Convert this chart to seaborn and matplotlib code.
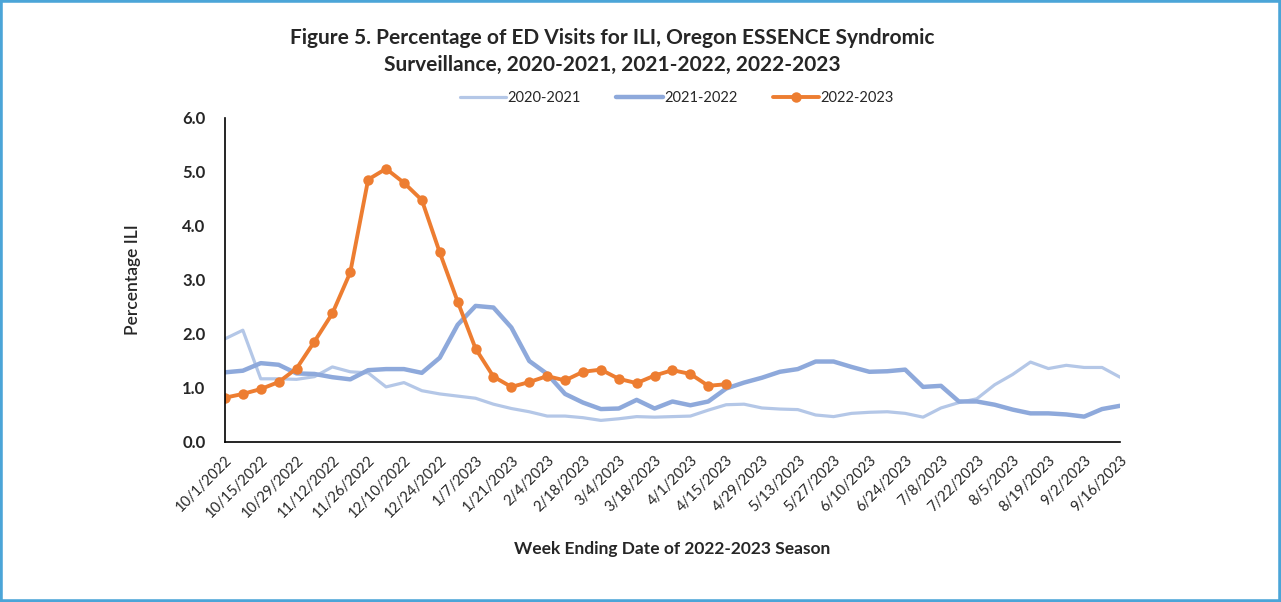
"""Oregon ESSENCE ILI ED visits, three seasons"""
import pandas as pd
import numpy as np
import matplotlib
matplotlib.use('Agg')
import matplotlib.pyplot as plt
from matplotlib.patches import Rectangle
import seaborn as sns

sns.set_theme(style="white")
plt.rcParams['font.family'] = ['Lato', 'DejaVu Sans']

weeks = pd.date_range('2022-10-01', '2023-09-16', freq='7D')
week_labels = [f"{d.month}/{d.day}/{d.year}" for d in weeks]

ili_2020_21 = [1.91, 2.07, 1.17, 1.17, 1.16, 1.21, 1.39, 1.30, 1.28, 1.02,
               1.10, 0.95, 0.89, 0.85, 0.81, 0.70, 0.62, 0.56, 0.48, 0.48,
               0.45, 0.40, 0.43, 0.47, 0.46, 0.47, 0.48, 0.59, 0.69, 0.70,
               0.63, 0.61, 0.60, 0.50, 0.47, 0.53, 0.55, 0.56, 0.53, 0.46,
               0.63, 0.73, 0.80, 1.06, 1.25, 1.48, 1.36, 1.42, 1.38, 1.38,
               1.20]
ili_2021_22 = [1.29, 1.32, 1.46, 1.43, 1.27, 1.26, 1.20, 1.16, 1.33, 1.35,
               1.35, 1.28, 1.56, 2.17, 2.52, 2.49, 2.12, 1.50, 1.26, 0.89,
               0.73, 0.61, 0.62, 0.78, 0.62, 0.75, 0.68, 0.75, 0.99, 1.10,
               1.19, 1.30, 1.35, 1.49, 1.49, 1.39, 1.30, 1.31, 1.34, 1.02,
               1.04, 0.75, 0.75, 0.69, 0.60, 0.53, 0.53, 0.51, 0.47, 0.61,
               0.67]
ili_2022_23 = [0.82, 0.89, 0.98, 1.11, 1.36, 1.86, 2.38, 3.14, 4.86, 5.06,
               4.80, 4.48, 3.51, 2.60, 1.73, 1.21, 1.02, 1.11, 1.22, 1.14,
               1.30, 1.34, 1.17, 1.09, 1.23, 1.33, 1.26, 1.04, 1.07]

fig = plt.figure(figsize=(12.81, 6.02), dpi=100)
ax = fig.add_axes([0.1756, 0.2658, 0.6987, 0.5382])

x_all = np.arange(len(weeks))
sns.lineplot(x=x_all, y=ili_2020_21, ax=ax, color='#B4C7E7', linewidth=2.3,
             label='2020-2021')
sns.lineplot(x=x_all, y=ili_2021_22, ax=ax, color='#8EA9DB', linewidth=3.2,
             label='2021-2022')
sns.lineplot(x=x_all[:len(ili_2022_23)], y=ili_2022_23, ax=ax, color='#ED7D31',
             linewidth=2.8, marker='o', markersize=7.5, markeredgewidth=0,
             label='2022-2023')

ax.set_xlim(0, len(weeks) - 1)
ax.set_ylim(0, 6)
ax.set_xticks(x_all)
ax.set_xticklabels([lbl if i % 2 == 0 else '' for i, lbl in enumerate(week_labels)],
                   rotation=45, ha='right', rotation_mode='anchor', fontsize=10.5)
ax.set_yticks(np.arange(0, 7, 1))
ax.set_yticklabels([f"{v:.1f}" for v in range(7)], fontsize=12, fontweight='bold')
ax.tick_params(axis='x', length=5, width=1, color='black', direction='out', pad=3)
ax.tick_params(axis='y', length=0, pad=14)
for s in ['top', 'right']:
    ax.spines[s].set_visible(False)
for s in ['left', 'bottom']:
    ax.spines[s].set_color('black')
    ax.spines[s].set_linewidth(1.2)

ax.set_ylabel('Percentage ILI', fontsize=12.5, fontweight='semibold', labelpad=30)
ax.set_xlabel('Week Ending Date of 2022-2023 Season', fontsize=12.5,
              fontweight='bold', labelpad=15)

ax.legend(loc='lower center', bbox_to_anchor=(0.505, 1.0), ncol=3, frameon=False,
          fontsize=10.5, handlelength=3.2, columnspacing=2.4, handletextpad=0.1)

fig.text(0.478, 0.915, 'Figure 5. Percentage of ED Visits for ILI, Oregon ESSENCE Syndromic\n'
         'Surveillance, 2020-2021, 2021-2022, 2022-2023',
         ha='center', va='center', fontsize=15, fontweight='bold', linespacing=1.45)

fig.patches.append(Rectangle((0, 0), 1, 1, transform=fig.transFigure, fill=False,
                             edgecolor='#4BA5D8', linewidth=4, zorder=10))

plt.savefig('out.png', dpi=100)
plt.close()
